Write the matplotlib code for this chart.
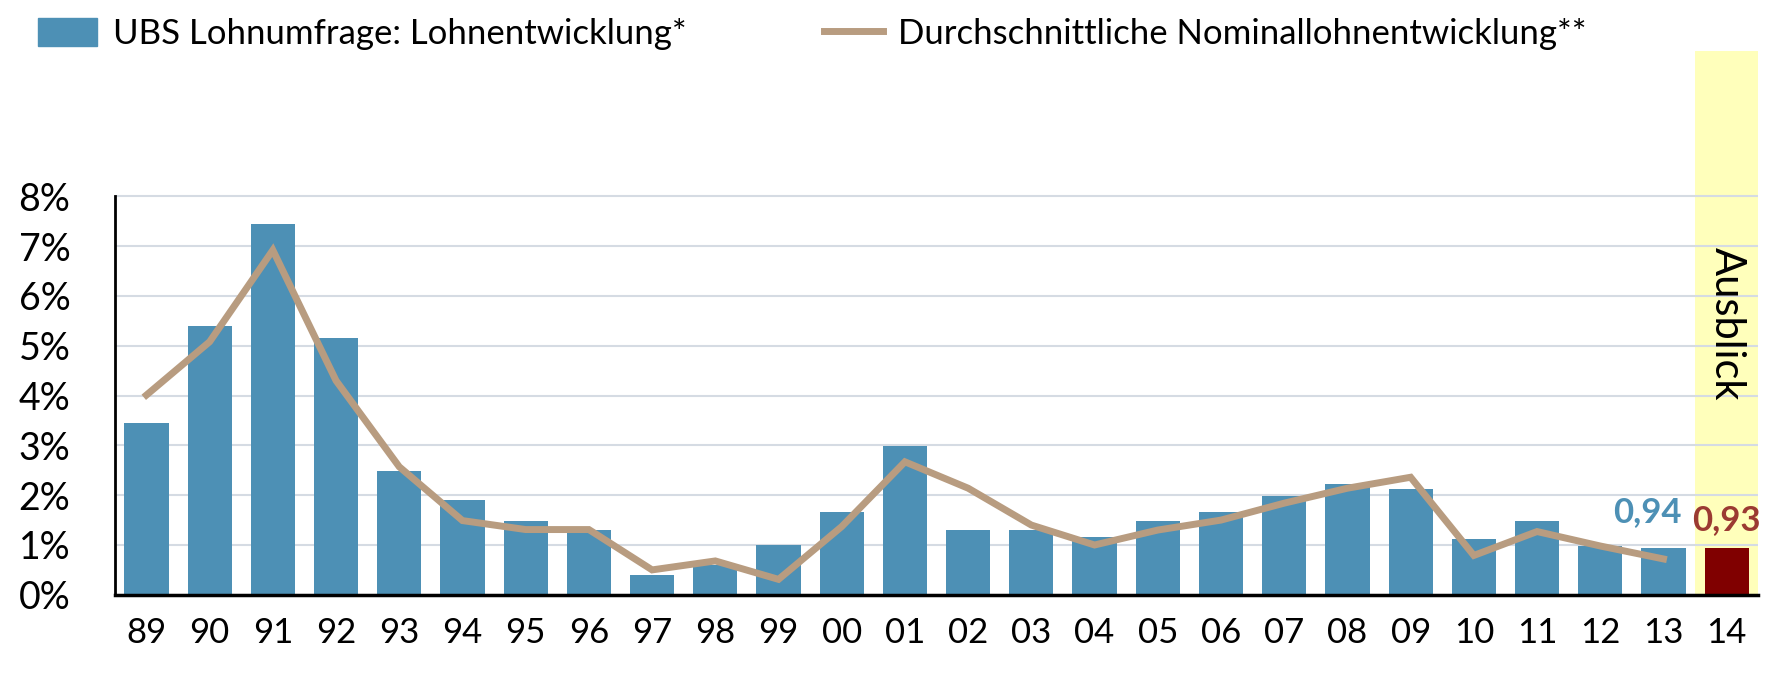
import numpy as np
import matplotlib
matplotlib.use('Agg')
import matplotlib.pyplot as plt
from matplotlib.patches import Patch
from matplotlib.lines import Line2D

plt.rcParams['font.family'] = ['Lato', 'DejaVu Sans']

years = ['89', '90', '91', '92', '93', '94', '95', '96', '97', '98', '99', '00', '01',
         '02', '03', '04', '05', '06', '07', '08', '09', '10', '11', '12', '13', '14']
ubs = [3.44, 5.40, 7.45, 5.16, 2.49, 1.90, 1.48, 1.30, 0.40, 0.60, 0.99, 1.66, 2.99,
       1.30, 1.30, 1.16, 1.48, 1.66, 1.98, 2.22, 2.12, 1.12, 1.48, 0.98, 0.94, 0.93]
nominal = [4.01, 5.08, 6.92, 4.30, 2.57, 1.49, 1.31, 1.31, 0.50, 0.68, 0.31, 1.37, 2.67,
           2.14, 1.40, 1.00, 1.30, 1.50, 1.84, 2.14, 2.36, 0.79, 1.27, 0.98, 0.72]
yticks = [0, 1, 2, 3, 4, 5, 6, 7, 8]

blue = '#4d90b5'
tan = '#b89c80'
darkred = '#800000'

fig = plt.figure(figsize=(17.8, 6.74), dpi=100)
ax = fig.add_axes([0.0645, 0.1175, 0.9233, 0.807])

x = np.arange(len(years))
ax.axvspan(x[-1]-0.5, x[-1]+0.5, color='#ffffbb', zorder=0, lw=0)
cols = [blue]*(len(years)-1)+[darkred]
ax.bar(x, ubs, width=0.7, color=cols, zorder=2)
ax.plot(x[:len(nominal)], nominal, color=tan, lw=5, zorder=3, solid_joinstyle='miter')

ax.set_xlim(-0.5, len(years)-0.5)
ax.set_ylim(0, 10.92)
ax.set_yticks(yticks)
ax.set_yticklabels(['%d%%' % v for v in yticks])
ax.set_xticks(x)
ax.set_xticklabels(years)
ax.yaxis.grid(True, color='#d5dbe3', lw=1.5, zorder=1)
ax.set_axisbelow(True)
ax.tick_params(axis='y', length=0, pad=32, labelsize=27)
ax.tick_params(axis='x', length=0, pad=16, labelsize=25)
for s in ['top', 'right']:
    ax.spines[s].set_visible(False)
ax.spines['left'].set_bounds(0, 8)
ax.spines['left'].set_linewidth(2)
ax.spines['bottom'].set_linewidth(2.5)
ax.spines['bottom'].set_zorder(4)

# labels for the last two bars
ax.text(x[-1], 5.45, 'Ausblick', rotation=-90, ha='center', va='center', fontsize=30)
ax.text(x[-2]-0.25, 1.66, '0,94', color=blue, fontweight='bold', ha='center', va='center', fontsize=25)
ax.text(x[-1], 1.50, '0,93', color='#9b3a32', fontweight='bold', ha='center', va='center', fontsize=25)

handles = [Patch(color=blue), Line2D([0], [0], color=tan, lw=5)]
labels = ['UBS Lohnumfrage: Lohnentwicklung*', 'Durchschnittliche Nominallohnentwicklung**']
fig.legend(handles, labels, loc='upper left', bbox_to_anchor=(0.004, 1.02), ncol=2,
           frameon=False, fontsize=25, handlelength=1.7, handleheight=0.85,
           handletextpad=0.45, columnspacing=3.95)

plt.savefig('out.png', dpi=100)
